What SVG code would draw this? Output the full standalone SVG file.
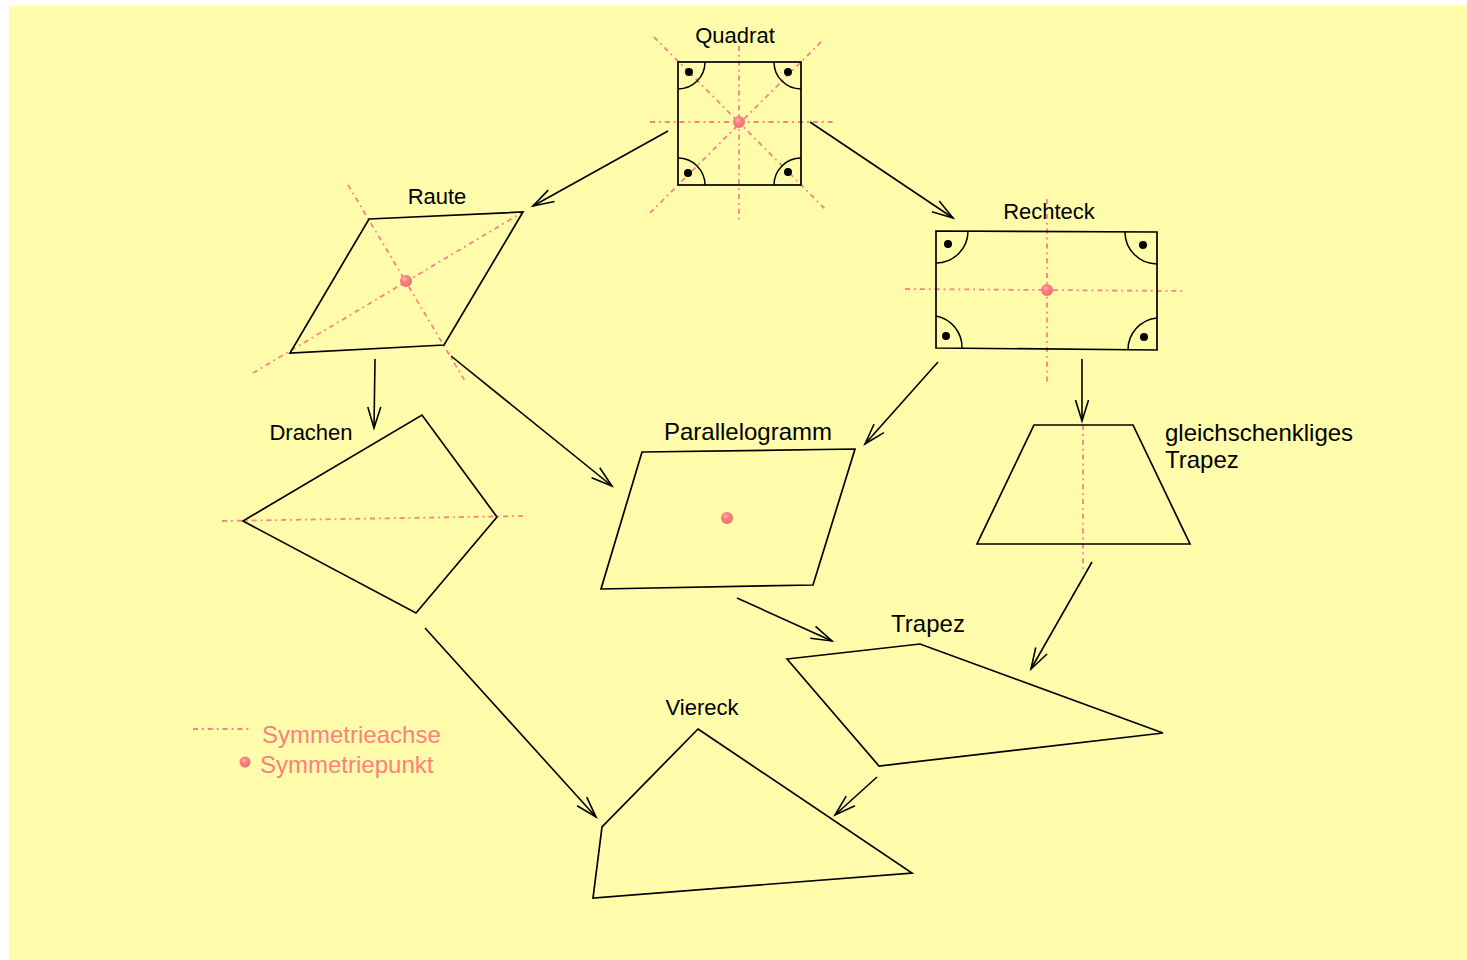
<svg xmlns="http://www.w3.org/2000/svg" width="1467" height="960" viewBox="0 0 1467 960">
  <defs>
    <style>
      .shape { fill: none; stroke: #000; stroke-width: 1.7; stroke-linejoin: miter; }
      .arc { fill: none; stroke: #000; stroke-width: 1.5; }
      .axis { fill: none; stroke: #ff8080; stroke-width: 1.8; stroke-dasharray: 5 4 1.8 4; }
      .conn { fill: none; stroke: #000; stroke-width: 1.6; marker-end: url(#open); }
      .lbl { font-family: "Liberation Sans", Arial, sans-serif; font-size: 22px; fill: #000; }
      .lbl-l { font-family: "Liberation Sans", Arial, sans-serif; font-size: 24px; fill: #000; }
      .leg { font-family: "Liberation Sans", Arial, sans-serif; font-size: 24px; fill: #ff7f7f; }
      .rdot { fill: url(#pt); }
      .bdot { fill: #000; }
    </style>
    <radialGradient id="pt" cx="0.4" cy="0.35" r="0.7">
      <stop offset="0" stop-color="#ffc0c0"/>
      <stop offset="0.35" stop-color="#ff8080"/>
      <stop offset="1" stop-color="#f06c6c"/>
    </radialGradient>
    <marker id="open" viewBox="-23 -8 26 16" refX="0" refY="0" markerWidth="26" markerHeight="16" markerUnits="userSpaceOnUse" orient="auto">
      <path d="M-21,-6.5 L0,0 L-21,6.5" fill="none" stroke="#000" stroke-width="1.6"/>
    </marker>
  </defs>

  <!-- sheet -->
  <rect x="9" y="6" width="1458" height="954" fill="#fffdab"/>

  <!-- square -->
  <g id="quadrat">
    <line class="axis" x1="650" y1="122" x2="835" y2="122"/>
    <line class="axis" x1="739" y1="46" x2="739" y2="223"/>
    <line class="axis" x1="654" y1="37" x2="827" y2="211"/>
    <line class="axis" x1="821" y1="42" x2="648" y2="215"/>
    <rect class="shape" x="678" y="62" width="123" height="123"/>
    <path class="arc" d="M705,62 A27,27 0 0 1 678,89"/>
    <path class="arc" d="M774,62 A27,27 0 0 0 801,89"/>
    <path class="arc" d="M678,158 A27,27 0 0 1 705,185"/>
    <path class="arc" d="M801,158 A27,27 0 0 0 774,185"/>
    <circle class="bdot" cx="689" cy="72" r="4"/>
    <circle class="bdot" cx="788" cy="72" r="4"/>
    <circle class="bdot" cx="688" cy="173" r="4"/>
    <circle class="bdot" cx="788" cy="172" r="4"/>
    <circle class="rdot" cx="739" cy="122" r="6"/>
    <text class="lbl" x="735" y="43" text-anchor="middle">Quadrat</text>
  </g>

  <!-- rhombus -->
  <g id="raute">
    <line class="axis" x1="253" y1="373" x2="523" y2="212"/>
    <line class="axis" x1="348" y1="185" x2="465" y2="381"/>
    <polygon class="shape" points="369,219 523,212 444,345 290,353"/>
    <circle class="rdot" cx="406" cy="281" r="6"/>
    <text class="lbl" x="437" y="204" text-anchor="middle">Raute</text>
  </g>

  <!-- rectangle -->
  <g id="rechteck">
    <line class="axis" x1="905" y1="289" x2="1183" y2="291"/>
    <line class="axis" x1="1047" y1="199" x2="1047" y2="382"/>
    <polygon class="shape" points="936,231 1157,232 1157,350 936,348"/>
    <path class="arc" d="M968,231.2 A32,32 0 0 1 936,263"/>
    <path class="arc" d="M1125,231.9 A32,32 0 0 0 1157,264"/>
    <path class="arc" d="M936,316 A32,32 0 0 1 962,348.1"/>
    <path class="arc" d="M1157,318 A32,32 0 0 0 1128,349.9"/>
    <circle class="bdot" cx="948" cy="244" r="4"/>
    <circle class="bdot" cx="1143" cy="245" r="4"/>
    <circle class="bdot" cx="946" cy="336" r="4"/>
    <circle class="bdot" cx="1144" cy="337" r="4"/>
    <circle class="rdot" cx="1047" cy="290" r="6"/>
    <text class="lbl" x="1049" y="219" text-anchor="middle">Rechteck</text>
  </g>

  <!-- kite -->
  <g id="drachen">
    <line class="axis" x1="222" y1="521" x2="525" y2="516"/>
    <polygon class="shape" points="243,521 422,415 497,517 416,613"/>
    <text class="lbl" x="311" y="440" text-anchor="middle">Drachen</text>
  </g>

  <!-- parallelogram -->
  <g id="parallelogramm">
    <polygon class="shape" points="642,452 855,449 813,585 601,589"/>
    <circle class="rdot" cx="727" cy="518" r="6"/>
    <text class="lbl-l" x="748" y="440" text-anchor="middle">Parallelogramm</text>
  </g>

  <!-- isosceles trapezoid -->
  <g id="gleichschenkliges-trapez">
    <line class="axis" x1="1083" y1="425" x2="1083" y2="571"/>
    <polygon class="shape" points="1034,425 1133,425 1190,544 977,544"/>
    <text class="lbl-l" x="1165" y="441">gleichschenkliges</text>
    <text class="lbl-l" x="1165" y="468">Trapez</text>
  </g>

  <!-- trapezoid -->
  <g id="trapez">
    <polygon class="shape" points="787,659 920,644 1163,733 879,766"/>
    <text class="lbl-l" x="928" y="632" text-anchor="middle">Trapez</text>
  </g>

  <!-- general quadrilateral -->
  <g id="viereck">
    <polygon class="shape" points="698,729 912,873 593,898 602,827"/>
    <text class="lbl" x="702" y="715" text-anchor="middle">Viereck</text>
  </g>

  <!-- legend -->
  <g id="legende">
    <line class="axis" x1="193" y1="729" x2="251" y2="729"/>
    <text class="leg" x="262" y="743">Symmetrieachse</text>
    <circle class="rdot" cx="245" cy="762" r="5.5"/>
    <text class="leg" x="260" y="773">Symmetriepunkt</text>
  </g>

  <!-- hierarchy arrows -->
  <g id="connectors">
    <line class="conn" x1="668" y1="131" x2="533" y2="206"/>
    <line class="conn" x1="810" y1="122" x2="953" y2="218"/>
    <line class="conn" x1="375" y1="359" x2="374" y2="428"/>
    <line class="conn" x1="451" y1="356" x2="612" y2="486"/>
    <line class="conn" x1="938" y1="362" x2="865" y2="444"/>
    <line class="conn" x1="1082" y1="359" x2="1082" y2="421"/>
    <line class="conn" x1="1092" y1="562" x2="1031" y2="669"/>
    <line class="conn" x1="737" y1="598" x2="832" y2="641"/>
    <line class="conn" x1="425" y1="628" x2="596" y2="817"/>
    <line class="conn" x1="877" y1="777" x2="835" y2="815"/>
  </g>
</svg>
